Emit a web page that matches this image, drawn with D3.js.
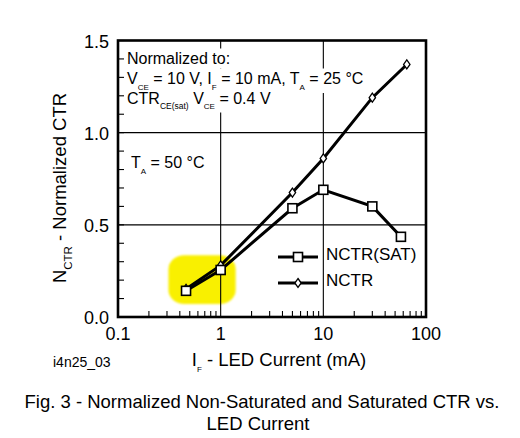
<!DOCTYPE html>
<html>
<head>
<meta charset="utf-8">
<script src="https://cdn.jsdelivr.net/npm/d3@7.9.0/dist/d3.min.js"></script>
<style>
  body { margin: 0; background: #fff; }
  svg { display: block; font-family: "Liberation Sans", Arial, Helvetica, sans-serif; }
</style>
</head>
<body>
<svg id="chart" width="520" height="438"></svg>
<script>
// values
const satCurrent = [0.46, 1, 5, 10, 30, 57];
const satCTR = [0.142, 0.255, 0.59, 0.69, 0.6, 0.435];
const nctrCurrent = [0.46, 1, 5, 10, 30, 65];
const nctrCTR = [0.152, 0.28, 0.675, 0.86, 1.19, 1.37];

const xTicks = [0.1, 1, 10, 100];
const xTickLabels = ['0.1', '1', '10', '100'];
const yTicks = [0, 0.5, 1.0, 1.5];
const yTickLabels = ['0.0', '0.5', '1.0', '1.5'];
const xGrid = [1, 10];
const yGrid = [0.5, 1.0];
// highlighted region (data units)
const markCurrent = [0.31, 1.4];
const markCTR = [0.07, 0.335];

let svg = d3.select('#chart');
let x = d3.scaleLog().domain([0.1, 100]).range([118, 426]);
let y = d3.scaleLinear().domain([0, 1.5]).range([317, 40.5]);

// yellow highlight
let defs = svg.append('defs');
defs.append('filter').attr('id', 'soft')
    .append('feGaussianBlur').attr('stdDeviation', 1.2);
svg.append('rect')
    .attr('x', x(markCurrent[0]))
    .attr('y', y(markCTR[1]))
    .attr('width', x(markCurrent[1]) - x(markCurrent[0]))
    .attr('height', y(markCTR[0]) - y(markCTR[1]))
    .attr('rx', 16).attr('ry', 14)
    .attr('fill', '#f9f000')
    .attr('filter', 'url(#soft)');

// grid
svg.selectAll('.gx').data(xGrid).enter().append('line')
    .attr('x1', d => x(d)).attr('x2', d => x(d))
    .attr('y1', y(0)).attr('y2', y(1.5))
    .attr('stroke', '#000').attr('stroke-width', 1.1);
svg.selectAll('.gy').data(yGrid).enter().append('line')
    .attr('x1', x(0.1)).attr('x2', x(100))
    .attr('y1', d => y(d)).attr('y2', d => y(d))
    .attr('stroke', '#000').attr('stroke-width', 1.1);

// minor ticks, pointing inward
let xMinor = x.ticks().filter(d => xTicks.indexOf(d) < 0);
svg.selectAll('.tx').data(xMinor).enter().append('line')
    .attr('x1', d => x(d)).attr('x2', d => x(d))
    .attr('y1', y(0)).attr('y2', y(0) - 6)
    .attr('stroke', '#000').attr('stroke-width', 1.1);
let yMinor = y.ticks(15);
svg.selectAll('.ty').data(yMinor).enter().append('line')
    .attr('x1', x(0.1)).attr('x2', x(0.1) + 6)
    .attr('y1', d => y(d)).attr('y2', d => y(d))
    .attr('stroke', '#000').attr('stroke-width', 1.1);

// text with subscripts
function richText(px, py, size, parts) {
    let t = svg.append('text').attr('x', px).attr('y', py).attr('font-size', size);
    let shift = 0;
    parts.forEach(p => {
        let sub = typeof p !== 'string';
        let s = t.append('tspan').text(sub ? p.sub : p);
        let want = sub ? (p.dy || 5.5) : 0;
        s.attr('dy', want - shift);
        if (sub) s.attr('font-size', p.size || 8);
        shift = want;
    });
    return t;
}

// annotation lines sit on white boxes that hide the grid
let notes = [
    richText(127, 64, 16, ['Normalized to:']),
    richText(127, 84, 16, ['V', { sub: 'CE' }, ' = 10 V, I', { sub: 'F' }, ' = 10 mA, T', { sub: 'A' }, ' = 25 °C']),
    richText(127, 103.5, 16, ['CTR', { sub: 'CE(sat)', size: 8.5 }, ' V', { sub: 'CE' }, ' = 0.4 V']),
    richText(131, 168, 16, ['T', { sub: 'A' }, ' = 50 °C'])
];
let firstNote = notes[0].node();
notes.forEach(t => {
    let b = t.node().getBBox();
    svg.insert('rect', () => firstNote)
        .attr('x', b.x - 2).attr('y', b.y - 1.5)
        .attr('width', b.width + 4).attr('height', b.height + 3)
        .attr('fill', '#fff');
});

// frame
svg.append('rect')
    .attr('x', x(0.1)).attr('y', y(1.5))
    .attr('width', x(100) - x(0.1)).attr('height', y(0) - y(1.5))
    .attr('fill', 'none').attr('stroke', '#000').attr('stroke-width', 2.6);

// tick labels
svg.selectAll('.lx').data(xTicks).enter().append('text')
    .attr('x', d => x(d)).attr('y', 340)
    .attr('text-anchor', 'middle').attr('font-size', 18)
    .text((d, i) => xTickLabels[i]);
svg.selectAll('.ly').data(yTicks).enter().append('text')
    .attr('x', 109).attr('y', d => y(d) + 7)
    .attr('text-anchor', 'end').attr('font-size', 18)
    .text((d, i) => yTickLabels[i]);

// series
let line = d3.line().x(d => x(d[0])).y(d => y(d[1]));
let satData = d3.zip(satCurrent, satCTR);
let nctrData = d3.zip(nctrCurrent, nctrCTR);

svg.append('path').attr('d', line(nctrData))
    .attr('fill', 'none').attr('stroke', '#000').attr('stroke-width', 3);
svg.append('path').attr('d', line(satData))
    .attr('fill', 'none').attr('stroke', '#000').attr('stroke-width', 3);

let diamond = 'M0,-4.5L3.2,0L0,4.5L-3.2,0Z';
svg.selectAll('.dm').data(nctrData).enter().append('path')
    .attr('d', diamond)
    .attr('transform', d => `translate(${x(d[0])},${y(d[1])})`)
    .attr('fill', '#fff').attr('stroke', '#000').attr('stroke-width', 1.3);
svg.selectAll('.sq').data(satData).enter().append('rect')
    .attr('x', d => x(d[0]) - 4.5).attr('y', d => y(d[1]) - 4.5)
    .attr('width', 9).attr('height', 9)
    .attr('fill', '#fff').attr('stroke', '#000').attr('stroke-width', 1.6);

// legend
let legend = svg.append('g');
[['NCTR(SAT)', 257, 'sq'], ['NCTR', 283, 'dm']].forEach(([label, ly, kind]) => {
    legend.append('line')
        .attr('x1', 278).attr('x2', 318).attr('y1', ly).attr('y2', ly)
        .attr('stroke', '#000').attr('stroke-width', 3);
    if (kind === 'sq') {
        legend.append('rect').attr('x', 293.5).attr('y', ly - 4.5)
            .attr('width', 9).attr('height', 9)
            .attr('fill', '#fff').attr('stroke', '#000').attr('stroke-width', 1.6);
    } else {
        legend.append('path').attr('d', diamond)
            .attr('transform', `translate(298,${ly})`)
            .attr('fill', '#fff').attr('stroke', '#000').attr('stroke-width', 1.3);
    }
    legend.append('text').attr('x', 326).attr('y', ly + 2.5)
        .attr('font-size', 17).text(label);
});

// axis titles
let xt = richText(0, 366, 18.5, ['I', { sub: 'F', size: 8, dy: 6 }, ' - LED Current (mA)']);
xt.attr('x', 279).attr('text-anchor', 'middle');
let yt = richText(0, 0, 18.5, ['N', { sub: 'CTR', size: 11.5, dy: 6 }, ' - Normalized CTR']);
yt.attr('text-anchor', 'middle').attr('transform', 'translate(66,188) rotate(-90)');

svg.append('text').attr('x', 53).attr('y', 367).attr('font-size', 14).text('i4n25_03');

svg.append('text').attr('x', 262).attr('y', 408).attr('text-anchor', 'middle')
    .attr('font-size', 18.5).text('Fig. 3 - Normalized Non-Saturated and Saturated CTR vs.');
svg.append('text').attr('x', 258).attr('y', 430).attr('text-anchor', 'middle')
    .attr('font-size', 18.5).text('LED Current');
</script>
</body>
</html>
